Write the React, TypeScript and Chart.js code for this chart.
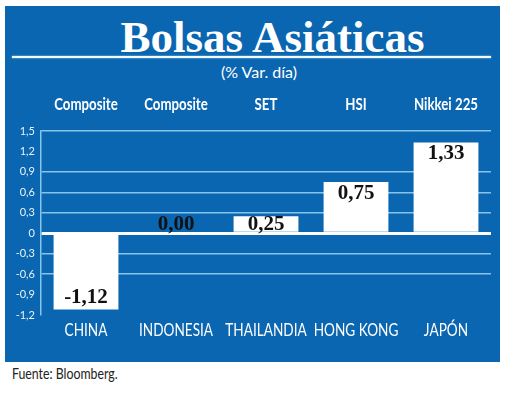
import React, { useEffect, useRef } from "react";
import { Chart, registerables } from "chart.js";

Chart.register(...registerables);

const countries = ["CHINA", "INDONESIA", "THAILANDIA", "HONG KONG", "JAPÓN"];
const indices = ["Composite", "Composite", "SET", "HSI", "Nikkei 225"];
const values = [-1.12, 0.0, 0.25, 0.75, 1.33];
const yTicks = [1.5, 1.2, 0.9, 0.6, 0.3, 0, -0.3, -0.6, -0.9, -1.2];
const hiddenGrid = [1.2, -0.9, -1.2];

const BLUE = "#0a66b0";
const GRID = "#86c4ec";

const fmt = (v: number, d: number) => v.toFixed(d).replace(".", ",");

const drawCondensed = (ctx: any, text: string, x: number, y: number, sx: number) => {
  ctx.save();
  ctx.translate(x, y);
  ctx.scale(sx, 1);
  ctx.fillText(text, 0, 0);
  ctx.restore();
};

const labelPlugin = {
  id: "barLabels",
  afterDatasetsDraw(chart: any) {
    const ctx = chart.ctx;
    const meta = chart.getDatasetMeta(0);
    const zeroY = chart.scales.y.getPixelForValue(0);
    const area = chart.chartArea;
    ctx.save();
    ctx.fillStyle = "#111";
    ctx.textAlign = "center";
    ctx.textBaseline = "middle";
    ctx.font = "bold 21px 'Liberation Serif', serif";
    meta.data.forEach((bar: any, i: number) => {
      const v = values[i];
      let y;
      if (v >= 0) y = Math.min(bar.y + 11, zeroY - 9);
      else y = bar.y - 12;
      ctx.fillText(fmt(v, 2), bar.x, y);
    });
    ctx.fillStyle = "#ffffff";
    ctx.font = "17px Lato, sans-serif";
    meta.data.forEach((bar: any, i: number) => {
      drawCondensed(ctx, countries[i], bar.x, area.bottom + 16, 0.8);
    });
    ctx.font = "bold 17px Lato, sans-serif";
    meta.data.forEach((bar: any, i: number) => {
      drawCondensed(ctx, indices[i], bar.x, area.top - 26, 0.78);
    });
    ctx.restore();
  },
};

export default function App() {
  const ref = useRef<HTMLCanvasElement>(null);
  useEffect(() => {
    if (!ref.current) return;
    const chart = new Chart(ref.current, {
      type: "bar",
      data: {
        labels: countries,
        datasets: [
          {
            data: values,
            backgroundColor: "#ffffff",
            borderWidth: 0,
            barPercentage: 0.72,
            categoryPercentage: 1,
          },
        ],
      },
      options: {
        animation: false,
        responsive: false,
        maintainAspectRatio: false,
        layout: { padding: { left: 0, right: 9, top: 39, bottom: 47 } },
        plugins: { legend: { display: false }, tooltip: { enabled: false } },
        scales: {
          x: {
            grid: { display: false, drawTicks: false },
            border: { display: false },
            ticks: { display: false },
          },
          y: {
            min: -1.2,
            max: 1.5,
            afterFit: (axis: any) => {
              axis.width = 36;
            },
            afterBuildTicks: (axis: any) => {
              axis.ticks = yTicks.map((v) => ({ value: v }));
            },
            grid: {
              drawTicks: false,
              color: (c: any) => {
                const v = c.tick ? c.tick.value : null;
                if (v === 0) return "#ffffff";
                if (v !== null && hiddenGrid.some((h) => Math.abs(h - v) < 1e-6)) return "rgba(0,0,0,0)";
                return GRID;
              },
              lineWidth: (c: any) => (c.tick && c.tick.value === 0 ? 3 : 1.5),
            },
            border: { display: true, color: GRID, width: 1.5 },
            ticks: {
              color: "#e8f3fb",
              font: { family: "Lato, sans-serif", size: 11 },
              padding: 6,
              callback: (v: any) => (Number(v) === 0 ? "0" : fmt(Number(v), 1)),
            },
          },
        },
      },
      plugins: [labelPlugin],
    });
    return () => chart.destroy();
  }, []);

  return (
    <div style={{ position: "absolute", left: 0, top: 0, width: 520, height: 397, background: "#fff", overflow: "hidden" }}>
      <div style={{ position: "absolute", left: 5, top: 6, width: 495, height: 356, background: BLUE }}>
        <div
          style={{
            position: "absolute",
            left: 0,
            width: 535,
            top: 6,
            textAlign: "center",
            color: "#fff",
            fontFamily: "'Liberation Serif', serif",
            fontWeight: "bold",
            fontSize: 45,
            lineHeight: "50px",
          }}
        >
          Bolsas Asiáticas
        </div>
        <div style={{ position: "absolute", left: 7, top: 50, width: 479, height: 2, background: "#f2f9ff", boxShadow: "0 0 2px #9fd3f5" }} />
        <div
          style={{
            position: "absolute",
            left: 0,
            width: 508,
            top: 56,
            textAlign: "center",
            color: "#fff",
            fontFamily: "Lato, 'Open Sans', sans-serif",
            fontSize: 16,
            lineHeight: "20px",
          }}
        >
          (% Var. día)
        </div>
        <canvas ref={ref} width={495} height={270} style={{ position: "absolute", left: 0, top: 86 }} />
      </div>
      <div
        style={{
          position: "absolute",
          left: 12,
          top: 364,
          color: "#222",
          fontFamily: "Lato, 'Open Sans', sans-serif",
          fontSize: 15,
          transform: "scaleX(0.82)",
          transformOrigin: "left top",
          whiteSpace: "nowrap",
        }}
      >
        Fuente: Bloomberg.
      </div>
    </div>
  );
}
